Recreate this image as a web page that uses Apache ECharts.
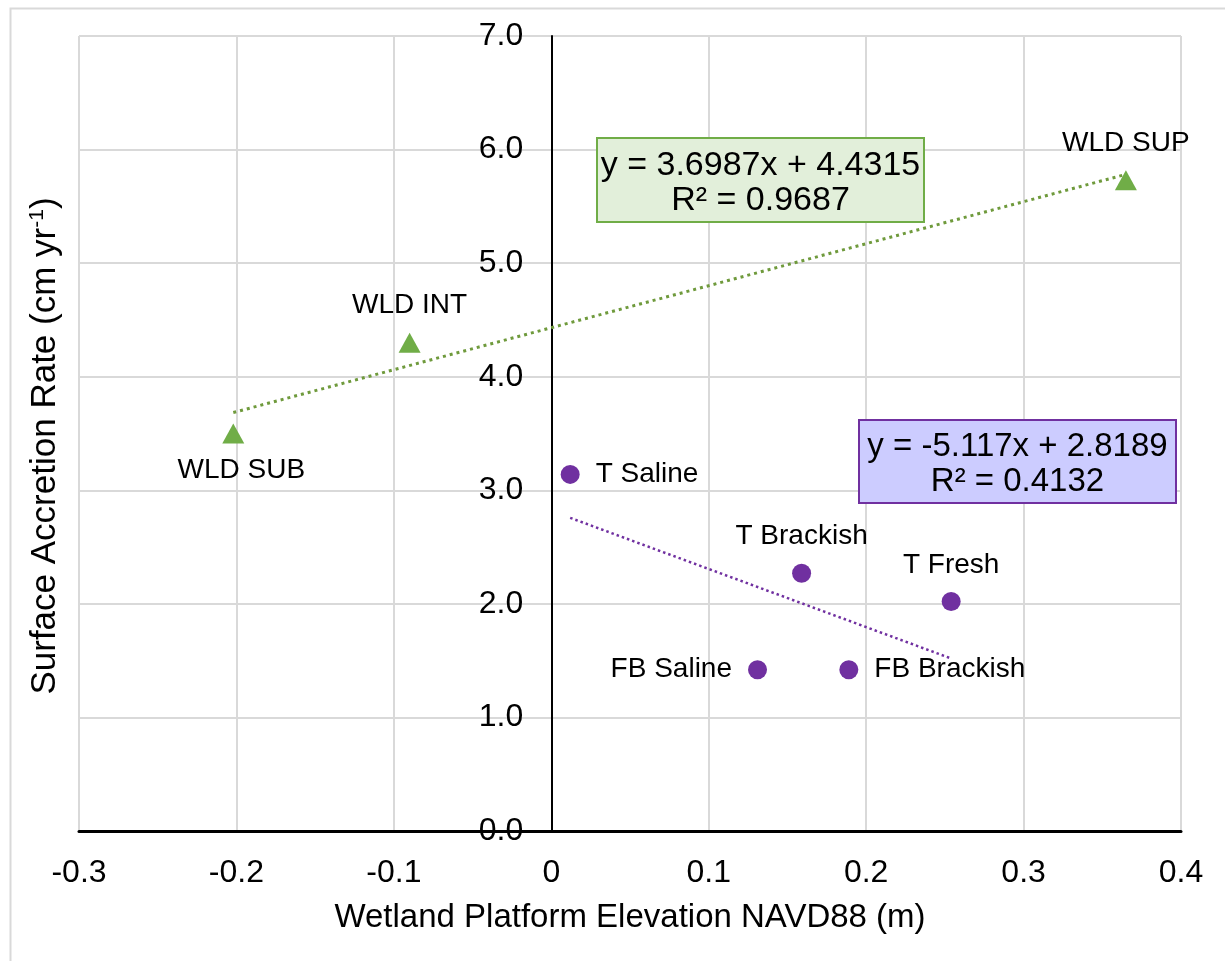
<!DOCTYPE html>
<html>
<head>
<meta charset="utf-8">
<script src="https://cdn.jsdelivr.net/npm/echarts@6/dist/echarts.min.js"></script>
<style>
  html, body { margin: 0; padding: 0; background: #ffffff; }
  #chart { width: 1225px; height: 961px; }
</style>
</head>
<body>
<div id="chart"></div>
<script>
// Wetland (WLD) sites: platform elevation (m NAVD88) vs surface accretion (cm/yr)
const wldNames = ['WLD SUB', 'WLD INT', 'WLD SUP'];
const wldX = [-0.202, -0.090, 0.365];
const wldY = [3.50, 4.30, 5.73];

// Transect (T) and FB sites
const siteNames = ['T Saline', 'T Brackish', 'T Fresh', 'FB Saline', 'FB Brackish'];
const siteX = [0.012, 0.159, 0.254, 0.131, 0.189];
const siteY = [3.14, 2.27, 2.02, 1.42, 1.42];

// Linear fits: [slope, intercept, R²]
const wldFit = [3.6987, 4.4315, 0.9687];
const siteFit = [-5.117, 2.8189, 0.4132];

// Axis ranges
const xRange = [-0.3, 0.4, 0.1];
const yRange = [0, 7, 1];

// Where each point's label sits
const wldLabelPos = ['bottom', 'top', 'top'];
const siteLabelPos = ['right', 'top', 'top', 'left', 'right'];

const FONT = '"Liberation Sans", Arial, sans-serif';
const GREEN = '#70ad47';
const PURPLE = '#7030a0';

const W = 1225, H = 961;
const GRID = { left: 79, right: 44, top: 36, bottom: 130 };
// the vertical axis crosses the horizontal one at x = 0
const plotW = W - GRID.left - GRID.right;
const yAxisShift = (0 - xRange[0]) / (xRange[1] - xRange[0]) * plotW;

function fitLine(fit, xs) {
  const lo = Math.min(...xs), hi = Math.max(...xs);
  return [[lo, fit[0] * lo + fit[1]], [hi, fit[0] * hi + fit[1]]];
}

function eqText(fit) {
  const sign = fit[1] >= 0 ? '+' : '-';
  return 'y = ' + fit[0] + 'x ' + sign + ' ' + Math.abs(fit[1]) + '\nR² = ' + fit[2];
}

function pointData(names, xs, ys, positions, offsets) {
  return names.map((n, i) => ({
    value: [xs[i], ys[i]],
    name: n,
    label: {
      position: positions[i],
      distance: positions[i] === 'top' || positions[i] === 'bottom' ? 13 : 16,
      offset: offsets ? offsets[i] : [0, 0]
    }
  }));
}

function eqBox(x, y, w, h, fill, stroke, text, size) {
  return {
    type: 'group', x: x, y: y, z: 100,
    children: [
      { type: 'rect', z: 100, shape: { width: w, height: h },
        style: { fill: fill, stroke: stroke, lineWidth: 2 } },
      { type: 'text', z: 101, x: w / 2, y: h / 2 + 3,
        style: { text: text, fill: '#000', fontSize: size, fontFamily: FONT,
                 align: 'center', verticalAlign: 'middle', lineHeight: 35 } }
    ]
  };
}

const chart = echarts.init(document.getElementById('chart'), null, { renderer: 'canvas' });

const labelStyle = {
  show: true,
  formatter: p => p.name,
  color: '#000',
  fontSize: 28,
  fontFamily: FONT
};

chart.setOption({
  animation: false,
  backgroundColor: '#ffffff',
  grid: { left: GRID.left, right: GRID.right, top: GRID.top, bottom: GRID.bottom, containLabel: false },
  xAxis: {
    type: 'value',
    min: xRange[0], max: xRange[1], interval: xRange[2],
    axisLine: { onZero: false, lineStyle: { color: '#000', width: 3 } },
    axisTick: { show: false },
    axisLabel: {
      color: '#000', fontSize: 32, fontFamily: FONT, margin: 26,
      formatter: v => {
        const r = Math.round(v * 10) / 10;
        return r === 0 ? '0' : String(r);
      }
    },
    splitLine: { show: true, lineStyle: { color: '#d9d9d9', width: 2 } },
    name: 'Wetland Platform Elevation NAVD88 (m)',
    nameLocation: 'middle',
    nameGap: 70,
    nameTextStyle: { color: '#000', fontSize: 33, fontFamily: FONT }
  },
  yAxis: {
    type: 'value',
    position: 'left',
    offset: -yAxisShift,
    min: yRange[0], max: yRange[1], interval: yRange[2],
    axisLine: { show: true, onZero: false, lineStyle: { color: '#000', width: 2 } },
    axisTick: { show: false },
    axisLabel: {
      color: '#000', fontSize: 32, fontFamily: FONT, margin: 28,
      formatter: v => v.toFixed(1)
    },
    splitLine: { show: true, lineStyle: { color: '#d9d9d9', width: 2 } }
  },
  series: [
    {
      name: 'WLD fit',
      type: 'line',
      data: fitLine(wldFit, wldX),
      showSymbol: false,
      silent: true,
      z: 1,
      lineStyle: { color: '#6f9a3c', width: 3, type: [3, 4] }
    },
    {
      name: 'Site fit',
      type: 'line',
      data: fitLine(siteFit, siteX),
      showSymbol: false,
      silent: true,
      z: 1,
      lineStyle: { color: PURPLE, width: 2.5, type: [2.5, 3] }
    },
    {
      name: 'WLD',
      type: 'scatter',
      symbol: 'triangle',
      symbolSize: [22, 20],
      itemStyle: { color: GREEN, opacity: 1 },
      label: labelStyle,
      z: 3,
      data: pointData(wldNames, wldX, wldY, wldLabelPos, [[8, 0], [0, 0], [0, 0]])
    },
    {
      name: 'Sites',
      type: 'scatter',
      symbol: 'circle',
      symbolSize: 19,
      itemStyle: { color: PURPLE, opacity: 1 },
      label: labelStyle,
      z: 3,
      data: pointData(siteNames, siteX, siteY, siteLabelPos)
    }
  ],
  graphic: [
    // chart frame
    {
      type: 'rect', left: 8, top: 6, silent: true, z: -10,
      shape: { width: 1240, height: 990 },
      style: { fill: 'none', stroke: '#d9d9d9', lineWidth: 2 }
    },
    // y-axis title
    {
      type: 'text', x: 45, y: 446, rotation: Math.PI / 2, silent: true,
      style: {
        text: 'Surface Accretion Rate (cm yr{sup|-1})',
        fill: '#000', fontSize: 35, fontFamily: FONT,
        align: 'center', verticalAlign: 'middle',
        rich: { sup: { fontSize: 21, fontFamily: FONT, fill: '#000', verticalAlign: 'top', padding: [0, 0, 15, 0] } }
      }
    },
    // regression equations
    eqBox(597, 138, 327, 84, '#e2efda', GREEN, eqText(wldFit), 34),
    eqBox(859, 420, 317, 83, '#ccccff', PURPLE, eqText(siteFit), 33)
  ]
});
</script>
</body>
</html>
